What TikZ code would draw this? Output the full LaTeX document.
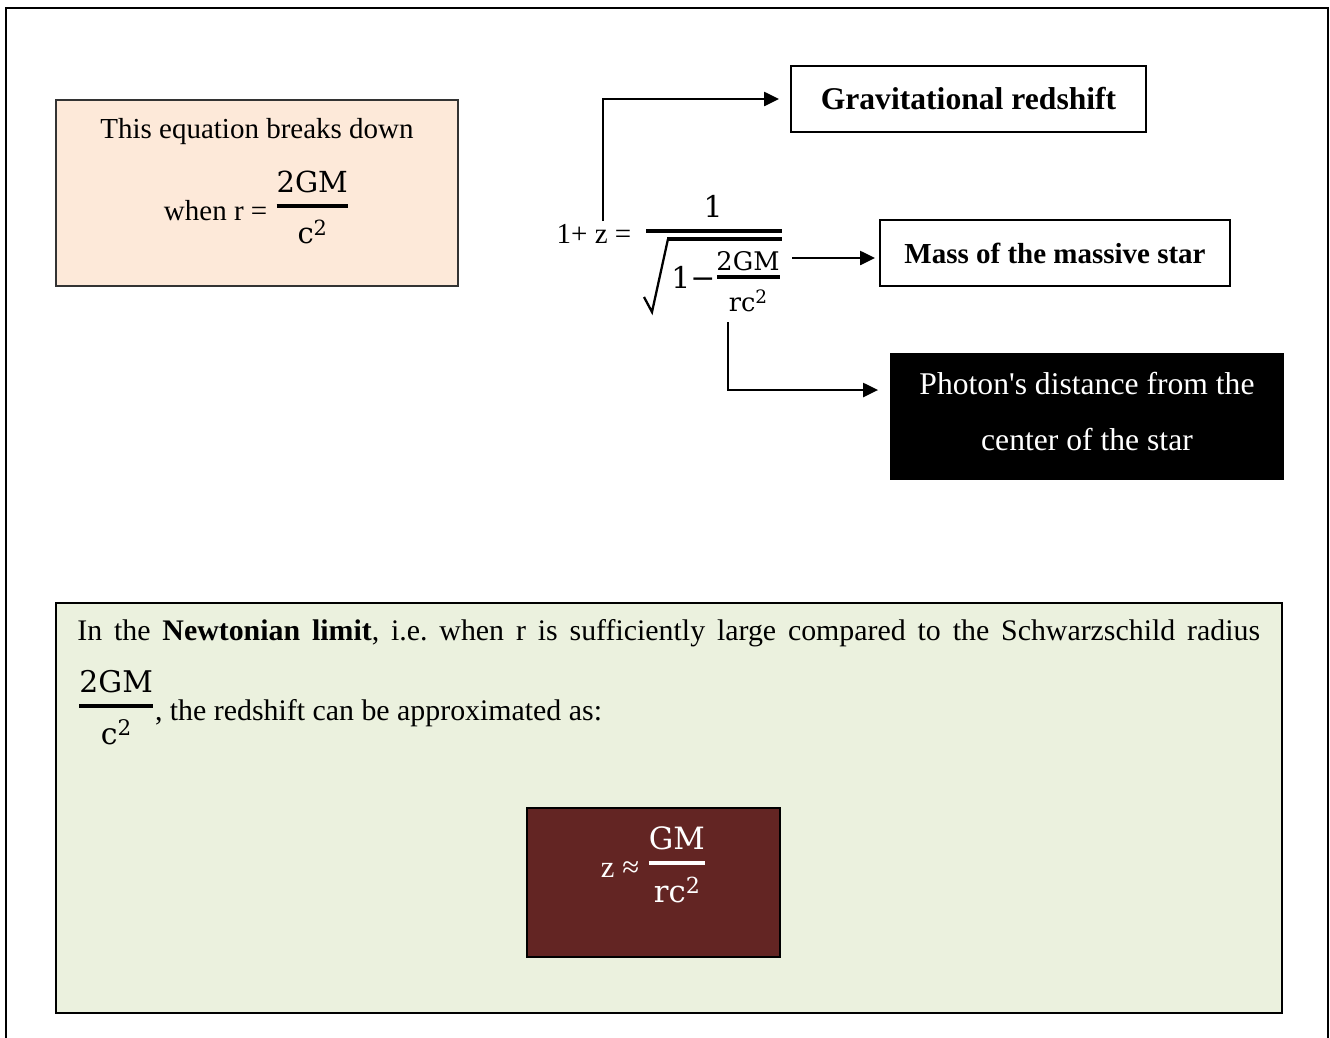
\documentclass[tikz,border=0pt]{standalone}
\usepackage{amsmath}
\usepackage{fontspec}
\setmainfont{Liberation Serif}
\newfontfamily\mfont{DejaVu Serif}
\usepackage{tikz}
\usetikzlibrary{arrows.meta, positioning}
\definecolor{peach}{HTML}{FDE9D9}
\definecolor{sage}{HTML}{EBF1DE}
\definecolor{maroon}{HTML}{632523}
\newcommand{\sqd}{\raisebox{0.3em}{\scalebox{0.72}{2}}}
\newcommand{\gfrac}[2]{\raisebox{3.5pt}{$\genfrac{}{}{2.2pt}{0}{\text{\mfont #1}}{\text{\mfont #2}}$}}
\newcommand{\fsz}[1]{\fontsize{#1}{1.2\dimexpr#1pt\relax}\selectfont}
\frenchspacing

\begin{document}
\begin{tikzpicture}[
  x=0.02cm, y=-0.02cm,
  box/.style={draw, line width=1.1pt, align=center, inner sep=0pt},
  peachbox/.style={box, draw=black!80, fill=peach, minimum width=8.04cm, minimum height=3.72cm},
  notebox/.style={box, fill=sage, minimum width=24.52cm, minimum height=8.2cm},
  darkbox/.style={box, fill=maroon, minimum width=5.06cm, minimum height=2.98cm},
  txt/.style={inner sep=0pt, font=\fsz{16.5}},
  mtxt/.style={inner sep=0pt, font=\fsz{17}\mfont},
  arr/.style={-{Triangle[length=8.5pt, width=8pt]}, line width=1.1pt},
  fracbar/.style={line width=2.2pt}
]
  \useasboundingbox (0,0) rectangle (1330,1038);
  \draw[line width=1.2pt] (6,1045) -- (6,8) -- (1328,8) -- (1328,1045);

  % upper left note
  \node[peachbox] (breaks) at (257,193) {};
  \node[txt, anchor=base] (breakstxt) at (257,138) {This equation breaks down};
  \node[txt, anchor=base] (whenr) at (257,220) {when r = \gfrac{2GM}{c\sqd}};

  % redshift formula
  \node[txt, anchor=base] (lhs) at (594,243) {1+ z =};
  \node[mtxt, anchor=base] (num) at (713,217) {1};
  \draw[fracbar] (646,231) -- (782,231);
  \draw[line width=1.3pt, line join=miter] (644,297) -- (652,312) -- (668,239);
  \draw[line width=1.8pt] (667,239) -- (782,239);
  \node[mtxt, anchor=base west] (inone) at (671,288) {1−};
  \node[inner sep=0pt, font=\fsz{14.6}\mfont, anchor=base] (ingm) at (748,270) {2GM};
  \draw[line width=2pt] (717,277) -- (780,277);
  \node[inner sep=0pt, font=\fsz{14.6}\mfont, anchor=base] (inrc) at (748,311) {rc\sqd};

  % labels
  \node[box, fill=white, minimum width=7.1cm, minimum height=1.32cm,
    font=\fsz{18}\bfseries] (grav) at (968.5,99) {Gravitational redshift};
  \node[box, fill=white, minimum width=7cm, minimum height=1.32cm,
    font=\fsz{16.5}\bfseries] (mass) at (1055,253) {Mass of the massive star};
  \node[box, fill=black, minimum width=7.84cm, minimum height=2.5cm] (photon) at (1087,416.5) {};
  \node[align=center, inner sep=0pt, text=white,
    font=\fontsize{18}{31.7}\selectfont] (photontxt) at (1087,411.5)
    {Photon\textquotesingle s distance from the\\center of the star};

  \coordinate (zstart) at (603,221);
  \coordinate (sqend) at (792,258);
  \coordinate (rcbelow) at (728,322);
  \draw[arr, shorten >=0.22cm] (zstart) |- (grav.west);
  \draw[arr, shorten >=0.08cm] (sqend) -- (sqend -| mass.west);
  \draw[arr, shorten >=0.24cm] (rcbelow) |- ([yshift=0.53cm]photon.west);

  % Newtonian limit
  \node[notebox] (newton) at (669,808) {};
  \node[txt, font=\fsz{17}, anchor=base west] (newtonline) at (77,640)
    {\makebox[23.66cm][s]{In the \textbf{Newtonian limit}, i.e. when r is sufficiently large compared to the Schwarzschild radius}};
  \node[txt, font=\fsz{17}, anchor=base west] (newtonfrac) at (77,720)
    {\gfrac{2GM}{c\sqd}, the redshift can be approximated as:};
  \node[darkbox] (approx) at (653.5,882.5) {};
  \node[txt, font=\fsz{17.5}, text=white, anchor=base] (approxtxt) at (654,877)
    {z ≈ \gfrac{GM}{rc\sqd}};
\end{tikzpicture}
\end{document}
